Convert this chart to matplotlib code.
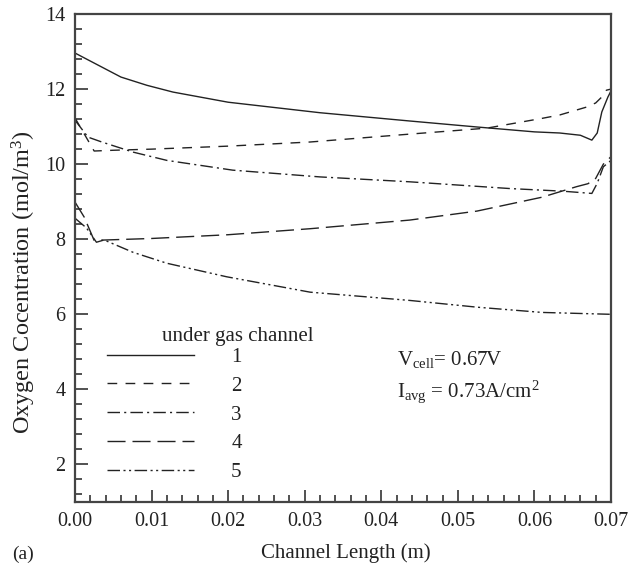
import matplotlib
matplotlib.use("Agg")
import matplotlib.pyplot as plt
from matplotlib.ticker import MultipleLocator, FormatStrFormatter

plt.rcParams['font.family'] = ['Liberation Serif', 'DejaVu Serif']
plt.rcParams['mathtext.fontset'] = 'custom'
plt.rcParams['mathtext.rm'] = 'Liberation Serif'
plt.rcParams['mathtext.it'] = 'Liberation Serif:italic'

# ---- data ----
x1 = [0, 0.0015, 0.003, 0.006, 0.0094, 0.0128, 0.02, 0.032, 0.0437, 0.0525, 0.06, 0.0633, 0.066, 0.0675, 0.0682, 0.0688, 0.0696, 0.07]
y1 = [12.96, 12.8, 12.64, 12.32, 12.1, 11.92, 11.65, 11.37, 11.15, 10.99, 10.86, 10.83, 10.77, 10.64, 10.83, 11.39, 11.79, 11.95]

x2 = [0, 0.0025, 0.005, 0.01, 0.02, 0.0307, 0.0437, 0.0538, 0.061, 0.0633, 0.0668, 0.068, 0.0688, 0.0694, 0.07]
y2 = [11.23, 10.35, 10.37, 10.4, 10.48, 10.59, 10.8, 10.96, 11.22, 11.31, 11.52, 11.63, 11.79, 11.97, 12.0]

x3 = [0, 0.0017, 0.0035, 0.0076, 0.012, 0.0206, 0.032, 0.0437, 0.0568, 0.0637, 0.0675, 0.0682, 0.069, 0.07]
y3 = [11.17, 10.72, 10.59, 10.32, 10.1, 9.84, 9.66, 9.53, 9.35, 9.28, 9.22, 9.49, 9.93, 10.1]

x4 = [0, 0.0012, 0.0025, 0.004, 0.01, 0.02, 0.0307, 0.0437, 0.0525, 0.061, 0.0655, 0.067, 0.068, 0.069, 0.07]
y4 = [8.99, 8.59, 7.97, 7.98, 8.02, 8.12, 8.28, 8.51, 8.75, 9.12, 9.40, 9.48, 9.62, 10.0, 10.2]

x5 = [0, 0.0015, 0.0028, 0.0038, 0.0076, 0.012, 0.0198, 0.0307, 0.0437, 0.0525, 0.061, 0.07]
y5 = [8.56, 8.3, 7.92, 7.98, 7.65, 7.36, 7.0, 6.59, 6.37, 6.19, 6.05, 6.0]

labels = ['1', '2', '3', '4', '5']
legend_title = 'under gas channel'
xlabel = 'Channel Length (m)'
ylabel = r'Oxygen Cocentration (mol/m$^3$)'

# ---- figure ----
fig = plt.figure(figsize=(6.30, 5.64), dpi=100)
ax = fig.add_axes([75/630, 1-502/564, 536/630, 488/564])

col = '#222222'
styles = [
    dict(linestyle='-'),
    dict(linestyle=(0, (7, 6))),
    dict(linestyle=(0, (9, 3, 1.5, 3))),
    dict(linestyle=(0, (13, 5))),
    dict(linestyle=(0, (9, 2.5, 1.5, 2.5, 1.5, 2.5))),
]
series = [(x1, y1), (x2, y2), (x3, y3), (x4, y4), (x5, y5)]
handles = []
for (xs, ys), st, lab in zip(series, styles, labels):
    h, = ax.plot(xs, ys, color=col, lw=1.0, label=lab, **st)
    handles.append(h)

ax.set_xlim(0, 0.07)
ax.set_ylim(1, 14)
ax.xaxis.set_major_locator(MultipleLocator(0.01))
ax.xaxis.set_minor_locator(MultipleLocator(0.002))
ax.xaxis.set_major_formatter(FormatStrFormatter('%.2f'))
ax.yaxis.set_minor_locator(MultipleLocator(0.4))
ax.set_yticks([2, 4, 6, 8, 10, 12, 14])

ax.tick_params(which='both', direction='in', top=False, right=False,
               colors='#333333', labelcolor='#222222', labelsize=14.5, width=1.2)
ax.tick_params(which='major', length=9, pad=7)
ax.tick_params(which='minor', length=5)
for s in ax.spines.values():
    s.set_color('#444444')
    s.set_linewidth(1.6)

ax.set_xlabel(xlabel, fontsize=15, color='#222222')
ax.xaxis.set_label_coords(0.506, -0.084)
ax.set_ylabel(ylabel, fontsize=17.5, color='#222222')
ax.yaxis.set_label_coords(-0.069, 0.451)

leg = ax.legend(handles=handles, loc='upper left', bbox_to_anchor=(0.0597, 0.3167),
                frameon=False, fontsize=15, handlelength=4.18, handletextpad=1.78,
                labelspacing=0.44, borderpad=0, borderaxespad=0)
for t in leg.get_texts():
    t.set_color('#222222')
ax.text(0.304, 0.340, legend_title, transform=ax.transAxes, ha='center', va='center',
        fontsize=15, color='#222222')

ax.text(0.601, 0.293, r'V$_{\mathrm{cell}}$= 0.67V', transform=ax.transAxes,
        ha='left', va='center', fontsize=15, color='#222222')
ax.text(0.601, 0.2255, r'I$_{\mathrm{avg}}$ = 0.73A/cm$^{2}$', transform=ax.transAxes,
        ha='left', va='center', fontsize=15, color='#222222')

fig.text(12/630, 1-554/564, '(a)', ha='left', va='center', fontsize=14, color='#222222')

fig.savefig('out.png', dpi=100)
